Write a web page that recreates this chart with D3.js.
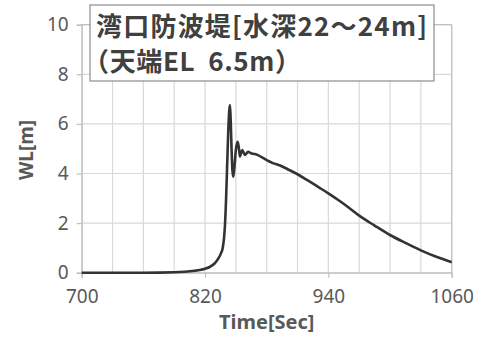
<!DOCTYPE html>
<html>
<head>
<meta charset="utf-8">
<script src="https://cdn.jsdelivr.net/npm/d3@7"></script>
<style>
  html, body { margin: 0; padding: 0; background: #fff; }
  svg { display: block; }
</style>
</head>
<body>
<svg id="chart" width="482" height="339"></svg>
<script>
// Water level time series at the bay-mouth breakwater
const time = [700, 760, 790, 800, 810, 815, 820, 825, 829, 833, 835.5, 837.2, 838.5, 839.4, 840.5, 841.5, 842.5, 843.5, 844.3, 845, 845.8, 846.7, 847.5, 848.7, 850, 851.8, 853, 854, 855.2, 856.3, 857.7, 859, 860.5, 862, 863.7, 865.3, 867.5, 870, 875, 880, 886, 893, 900, 910, 920, 930, 940, 950, 960, 970, 985, 1000, 1015, 1030, 1045, 1060];
const wl   = [0, 0, 0.02, 0.04, 0.08, 0.11, 0.16, 0.24, 0.36, 0.58, 0.78, 1.0, 1.4, 1.92, 3.0, 4.3, 5.6, 6.5, 6.76, 6.1, 5.0, 4.1, 3.87, 4.3, 4.95, 5.28, 5.0, 4.68, 4.85, 4.95, 4.82, 4.75, 4.82, 4.88, 4.84, 4.81, 4.79, 4.77, 4.66, 4.54, 4.42, 4.32, 4.18, 3.97, 3.72, 3.46, 3.2, 2.92, 2.62, 2.3, 1.9, 1.52, 1.2, 0.9, 0.64, 0.42];

const xTicks = [700, 820, 940, 1060];
const xGrid = d3.range(700, 1061, 30);
const yTicks = [0, 2, 4, 6, 8, 10];
const titleLines = ["湾口防波堤[水深22～24m]", "（天端EL  6.5m）"];
const xLabel = "Time[Sec]";
const yLabel = "WL[m]";

const svg = d3.select("#chart");
const plot = { left: 81.7, right: 451.7, top: 24.7, bottom: 272.7 };

const x = d3.scaleLinear().domain([700, 1060]).range([plot.left, plot.right]);
const y = d3.scaleLinear().domain([0, 10]).range([plot.bottom, plot.top]);

const tickFont = "'Noto Sans', sans-serif";
const gridColor = "#d9d9d9";
const textColor = "#595959";

// grid
svg.append("g").selectAll("line").data(xGrid).join("line")
  .attr("x1", d => x(d)).attr("x2", d => x(d))
  .attr("y1", plot.top).attr("y2", plot.bottom)
  .attr("stroke", gridColor).attr("stroke-width", 1.2);
svg.append("g").selectAll("line").data(yTicks).join("line")
  .attr("x1", plot.left).attr("x2", plot.right)
  .attr("y1", d => y(d)).attr("y2", d => y(d))
  .attr("stroke", gridColor).attr("stroke-width", 1.2);

// axes
const xAxis = d3.axisBottom(x).tickValues(xTicks).tickSize(5).tickPadding(12).tickFormat(d3.format("d"));
const yAxis = d3.axisLeft(y).tickValues(yTicks).tickSize(5).tickPadding(8).tickFormat(d3.format("d"));

const gx = svg.append("g").attr("transform", `translate(0,${plot.bottom})`).call(xAxis);
const gy = svg.append("g").attr("transform", `translate(${plot.left},0)`).call(yAxis);
[gx, gy].forEach(g => {
  g.select(".domain").attr("stroke", "#bfbfbf").attr("stroke-width", 1.2);
  g.selectAll(".tick line").attr("stroke", "#bfbfbf").attr("stroke-width", 1.2);
  g.selectAll(".tick text").attr("fill", textColor)
    .style("font-family", tickFont).style("font-size", "19px");
});

// right and top border
svg.append("line").attr("x1", plot.right).attr("x2", plot.right).attr("y1", plot.top).attr("y2", plot.bottom)
  .attr("stroke", "#bfbfbf").attr("stroke-width", 1.2);
svg.append("line").attr("x1", plot.left).attr("x2", plot.right).attr("y1", plot.top).attr("y2", plot.top)
  .attr("stroke", "#bfbfbf").attr("stroke-width", 1.2);

// series
const pts = time.map((t, i) => [t, wl[i]]);
svg.append("path").datum(pts)
  .attr("fill", "none").attr("stroke", "#333333").attr("stroke-width", 2.6)
  .attr("stroke-linejoin", "round")
  .attr("d", d3.line().x(d => x(d[0])).y(d => y(d[1])).curve(d3.curveMonotoneX));

// axis titles
svg.append("text").attr("x", 266.7).attr("y", 329).attr("text-anchor", "middle")
  .attr("fill", textColor).style("font-family", tickFont).style("font-size", "20px").style("font-weight", "bold")
  .text(xLabel);
svg.append("text").attr("transform", "translate(33,150) rotate(-90)").attr("text-anchor", "middle")
  .attr("fill", textColor).style("font-family", tickFont).style("font-size", "19px").style("font-weight", "bold")
  .text(yLabel);

// title box
svg.append("rect").attr("x", 90).attr("y", 5).attr("width", 344).attr("height", 76)
  .attr("fill", "#fff").attr("stroke", "#8c8c8c").attr("stroke-width", 1.2);
const titleX = [96, 83];
const titleLen = [331, 218];
svg.append("g").selectAll("text").data(titleLines).join("text")
  .attr("x", (d, i) => titleX[i]).attr("y", (d, i) => 36 + i * 35)
  .attr("textLength", (d, i) => titleLen[i])
  .attr("fill", "#404040")
  .style("white-space", "pre")
  .style("font-family", "'Noto Sans CJK JP', sans-serif").style("font-size", "26px").style("font-weight", "bold")
  .text(d => d);
</script>
</body>
</html>
